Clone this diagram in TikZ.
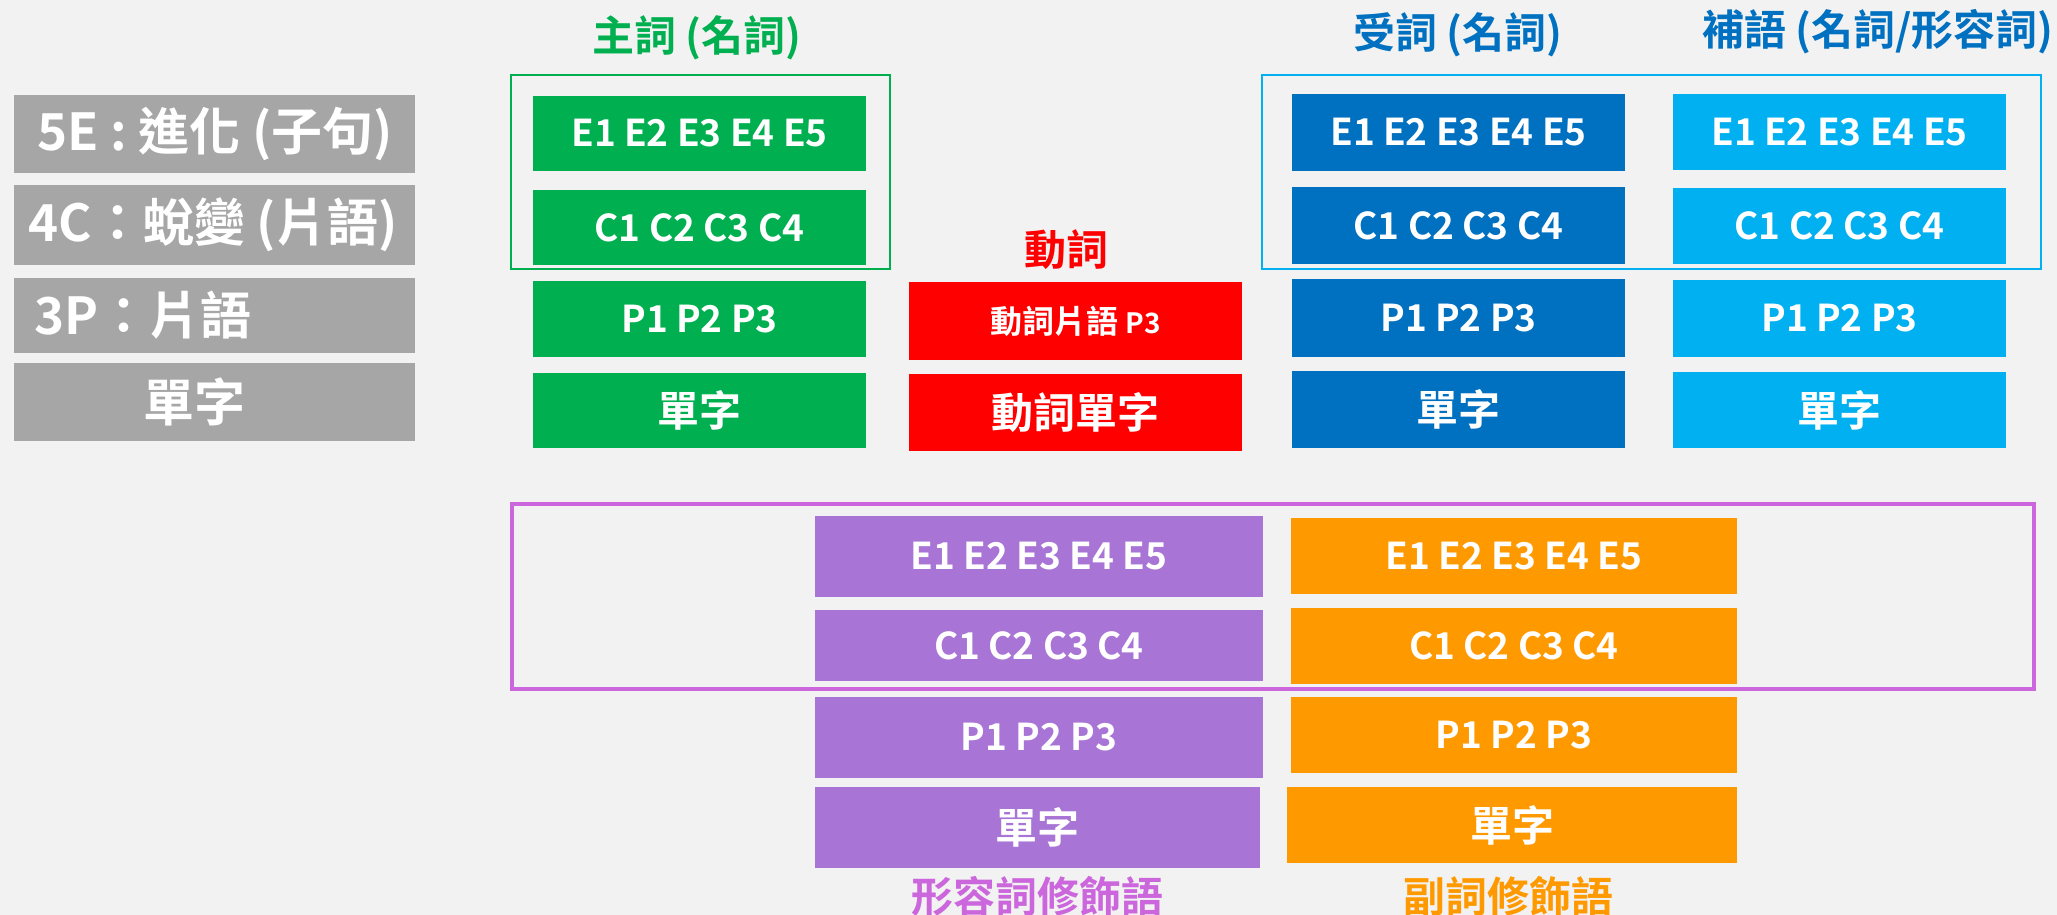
\documentclass[tikz,border=0pt]{standalone}
\usepackage{fontspec}
\setmainfont{Noto Sans CJK TC Bold}
\definecolor{bgc}{HTML}{F2F2F2}
\definecolor{grayc}{HTML}{A6A6A6}
\definecolor{greenc}{HTML}{00B050}
\definecolor{redc}{HTML}{FF0000}
\definecolor{dbluec}{HTML}{0070C0}
\definecolor{lbluec}{HTML}{00B0F0}
\definecolor{purplec}{HTML}{A874D5}
\definecolor{orangec}{HTML}{FF9900}
\definecolor{violetc}{HTML}{CC66DD}
\tikzset{
  bx/.style={inner sep=0pt, outer sep=0pt, text=white, anchor=center},
  lbl/.style={inner sep=0pt, text=white},
  fsE/.style={font=\fontsize{37}{44}\selectfont},
  fsW/.style={font=\fontsize{42}{50}\selectfont},
  fsG/.style={font=\fontsize{51}{60}\selectfont},
  fsT/.style={font=\fontsize{42}{50}\selectfont},
}
% box: name, colour, left, top, right, bottom, text, font style
\newcommand\mybox[8]{%
  \fill[#2] (#3,#4) rectangle (#5,#6);
  \node[bx,#8] (#1) at ({(#3+#5)/2},{(#4+#6)/2}) {#7};
}
\begin{document}
\begin{tikzpicture}[x=1pt,y=-1pt]
\useasboundingbox[fill=bgc] (0,0) rectangle (2057,915);

% gray level boxes
\fill[grayc] (14,95) rectangle (415,173);
\fill[grayc] (14,185) rectangle (415,265);
\fill[grayc] (14,278) rectangle (415,353);
\fill[grayc] (14,363) rectangle (415,441);
\node[lbl,fsG] (g1) at (215,134) {5E : 進化 (子句)};
\node[lbl,fsG] (g2) at (213,225) {4C：蛻變 (片語)};
\node[lbl,fsG,anchor=west] (g3) at (34,315) {3P：片語};
\node[lbl,fsG] (g4) at (194,402) {單字};

% subject (green)
\node[inner sep=0pt,text=greenc,fsT] (tS) at (697,38) {主詞 (名詞)};
\draw[greenc,line width=1.5pt] (511,75) rectangle (890,269);
\mybox{sE}{greenc}{533}{96}{866}{171}{E1 E2 E3 E4 E5}{fsE}
\mybox{sC}{greenc}{533}{190}{866}{265}{C1 C2 C3 C4}{fsE}
\mybox{sP}{greenc}{533}{281}{866}{357}{P1 P2 P3}{fsE}
\mybox{sW}{greenc}{533}{373}{866}{448}{單字}{fsW}

% verb (red)
\node[inner sep=0pt,text=redc,fsT] (tV) at (1066,250) {動詞};
\mybox{vP}{redc}{909}{282}{1242}{360}{動詞片語 {\fontsize{28}{34}\selectfont P3}}{font=\fontsize{32}{38}\selectfont}
\mybox{vW}{redc}{909}{374}{1242}{451}{動詞單字}{fsW}

% object (dark blue) and complement (light blue)
\node[inner sep=0pt,text=dbluec,fsT] (tO) at (1458,35) {受詞 (名詞)};
\node[inner sep=0pt,text=dbluec,fsT] (tC) at (1878,32) {補語 (名詞/形容詞)};
\draw[lbluec,line width=2pt] (1262,75) rectangle (2041,269);
\mybox{oE}{dbluec}{1292}{94}{1625}{171}{E1 E2 E3 E4 E5}{fsE}
\mybox{oC}{dbluec}{1292}{187}{1625}{264}{C1 C2 C3 C4}{fsE}
\mybox{oP}{dbluec}{1292}{279}{1625}{357}{P1 P2 P3}{fsE}
\mybox{oW}{dbluec}{1292}{371}{1625}{448}{單字}{fsW}
\mybox{cE}{lbluec}{1673}{94}{2006}{170}{E1 E2 E3 E4 E5}{fsE}
\mybox{cC}{lbluec}{1673}{188}{2006}{264}{C1 C2 C3 C4}{fsE}
\mybox{cP}{lbluec}{1673}{280}{2006}{357}{P1 P2 P3}{fsE}
\mybox{cW}{lbluec}{1673}{372}{2006}{448}{單字}{fsW}

% modifiers
\draw[violetc,line width=4pt] (512,504) rectangle (2034,689);
\mybox{aE}{purplec}{815}{516}{1263}{597}{E1 E2 E3 E4 E5}{fsE}
\mybox{aC}{purplec}{815}{610}{1263}{681}{C1 C2 C3 C4}{fsE}
\mybox{aP}{purplec}{815}{697}{1263}{778}{P1 P2 P3}{fsE}
\mybox{aW}{purplec}{815}{787}{1260}{868}{單字}{fsW}
\mybox{dE}{orangec}{1291}{518}{1737}{594}{E1 E2 E3 E4 E5}{fsE}
\mybox{dC}{orangec}{1291}{608}{1737}{684}{C1 C2 C3 C4}{fsE}
\mybox{dP}{orangec}{1291}{697}{1737}{773}{P1 P2 P3}{fsE}
\mybox{dW}{orangec}{1287}{787}{1737}{863}{單字}{fsW}
\node[inner sep=0pt,text=violetc,fsT,anchor=north] (tA) at (1037,876) {形容詞修飾語};
\node[inner sep=0pt,text=orangec,fsT,anchor=north] (tD) at (1508,876) {副詞修飾語};
\end{tikzpicture}
\end{document}
